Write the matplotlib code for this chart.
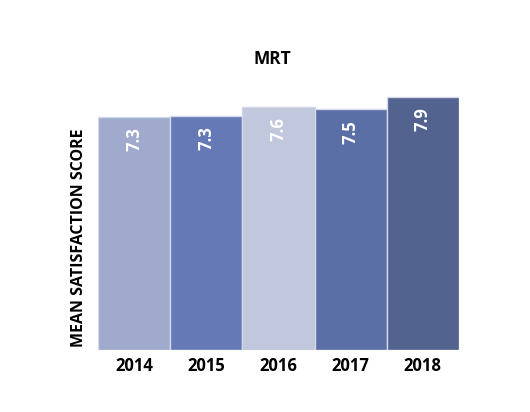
#!/usr/bin/env python

import matplotlib as mpl
from matplotlib import pyplot as plt

# chart data
years = ['2014', '2015', '2016', '2017', '2018']
scores = [7.30, 7.34, 7.62, 7.54, 7.94]
bar_labels = ['7.3', '7.3', '7.6', '7.5', '7.9']
bar_colors = ['#A0AACC', '#6479B6', '#C1C7DC', '#5A6FA5', '#52638F']


def main():
    mpl.rcParams.update({'font.family': ['Open Sans', 'DejaVu Sans']})

    fig = plt.figure(figsize=(5.3, 4.12), dpi=100)
    ax = fig.add_axes([0.185, 0.150, 0.681, 0.644])

    x = range(len(years))
    bars = ax.bar(x, scores, width=1.0, color=bar_colors,
                  edgecolor='#D3D8E8', linewidth=1.0)

    # value labels, rotated, just under the top of each bar
    for rect, label in zip(bars, bar_labels):
        ax.annotate(label,
                    xy=(rect.get_x() + rect.get_width() / 2, rect.get_height()),
                    xytext=(0, -7.5), textcoords='offset points',
                    rotation=90, ha='center', va='top',
                    color='white', fontsize=12, fontweight='bold')

    ax.set_xlim(-0.5, len(years) - 0.5)
    ax.set_ylim(0, 8.31)
    ax.set_xticks(list(x))
    ax.set_xticklabels(years, fontsize=12, fontweight='bold')
    ax.tick_params(axis='x', length=0, pad=5)
    ax.set_yticks([])
    for side in ax.spines.values():
        side.set_visible(False)

    ax.set_ylabel('MEAN SATISFACTION SCORE', fontsize=11.5,
                  fontweight='bold')
    ax.yaxis.set_label_coords(-0.03, 0.425)

    fig.text(0.513, 0.858, 'MRT', ha='center', va='center',
             fontsize=12.5, fontweight='bold')

    plt.savefig('out.png', dpi=100)


if __name__ == '__main__':
    main()
